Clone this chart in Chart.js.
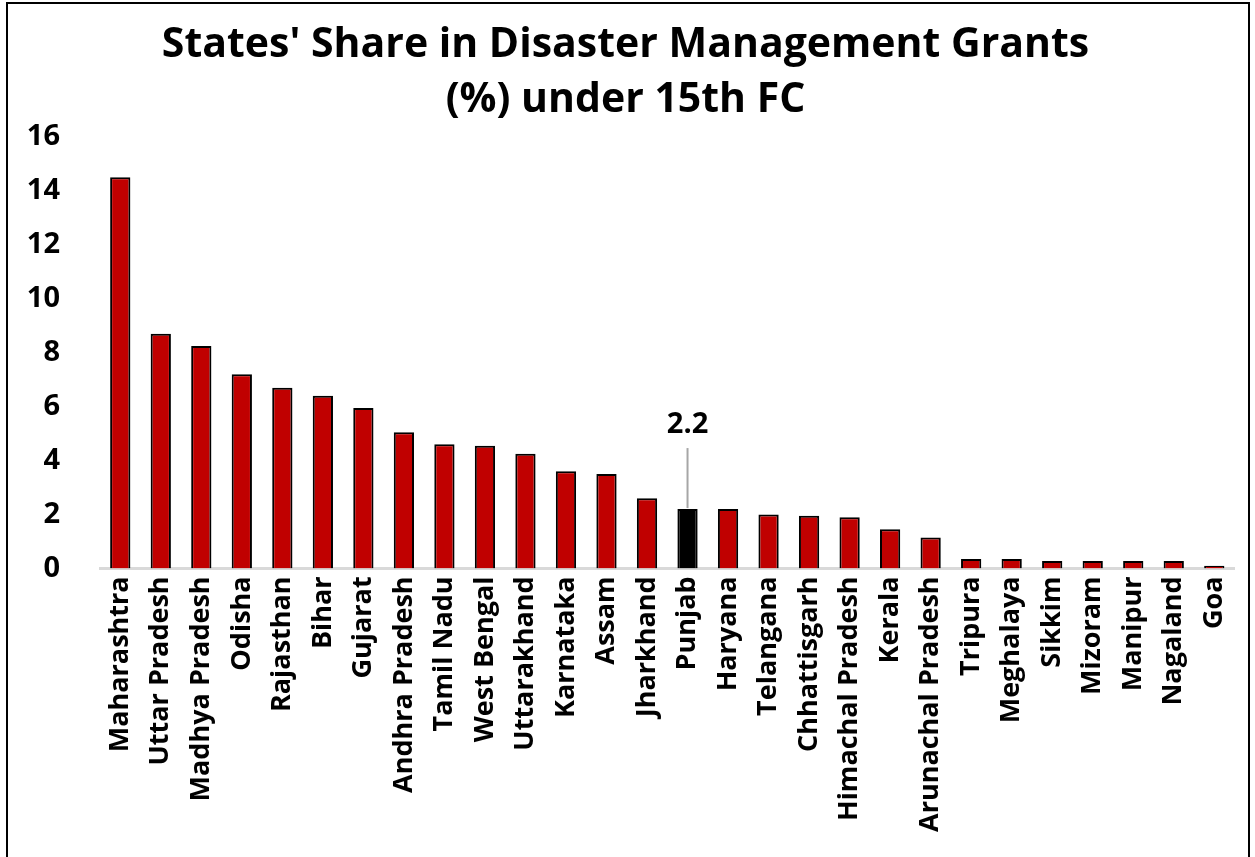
<!DOCTYPE html>
<html>
<head>
<meta charset="utf-8">
<script src="https://cdn.jsdelivr.net/npm/chart.js@4.4.1/dist/chart.umd.min.js"></script>
<style>
  html, body { margin: 0; padding: 0; background: #fff; overflow: hidden; }
  #frame {
    position: absolute; left: 6px; top: 2px;
    width: 1244px; height: 880px;
    border: 2px solid #000; box-sizing: border-box;
  }
  #wrap { position: absolute; left: 0; top: 0; width: 1255px; height: 857px; }
</style>
</head>
<body>
<div id="frame"></div>
<div id="wrap"><canvas id="chart" width="1255" height="857"></canvas></div>
<script>
const states = ["Maharashtra", "Uttar Pradesh", "Madhya Pradesh", "Odisha", "Rajasthan", "Bihar",
  "Gujarat", "Andhra Pradesh", "Tamil Nadu", "West Bengal", "Uttarakhand", "Karnataka", "Assam",
  "Jharkhand", "Punjab", "Haryana", "Telangana", "Chhattisgarh", "Himachal Pradesh", "Kerala",
  "Arunachal Pradesh", "Tripura", "Meghalaya", "Sikkim", "Mizoram", "Manipur", "Nagaland", "Goa"];
const sharePct = [14.5, 8.7, 8.25, 7.2, 6.7, 6.4, 5.95, 5.05, 4.6, 4.55, 4.25, 3.6, 3.5,
  2.6, 2.2, 2.2, 2.0, 1.95, 1.9, 1.45, 1.15, 0.35, 0.35, 0.27, 0.27, 0.27, 0.27, 0.1];
const yTicks = [0, 2, 4, 6, 8, 10, 12, 14, 16];
const highlighted = "Punjab";

const FONT = "'Open Sans', Lato, sans-serif";

// Callout above the highlighted bar: value text with a grey leader line
const calloutPlugin = {
  id: 'callout',
  afterDatasetsDraw(chart) {
    const idx = states.indexOf(highlighted);
    const x = chart.scales.x.getPixelForValue(idx);
    const yTop = chart.scales.y.getPixelForValue(sharePct[idx]);
    const ctx = chart.ctx;
    ctx.save();
    ctx.strokeStyle = '#a6a6a6';
    ctx.lineWidth = 2;
    ctx.beginPath();
    ctx.moveTo(x, yTop - 1);
    ctx.lineTo(x, yTop - 61);
    ctx.stroke();
    ctx.fillStyle = '#000';
    ctx.font = "bold 29px " + FONT;
    ctx.textAlign = 'center';
    ctx.textBaseline = 'middle';
    ctx.fillText(sharePct[idx].toFixed(1), x, yTop - 84);
    ctx.restore();
  }
};

new Chart(document.getElementById('chart'), {
  type: 'bar',
  data: {
    labels: states,
    datasets: [{
      data: sharePct,
      backgroundColor: states.map(s => s === highlighted ? '#000000' : '#c00000'),
      borderColor: '#000000',
      borderWidth: 2,
      barPercentage: 0.5,
      categoryPercentage: 1.0
    }]
  },
  options: {
    responsive: false,
    animation: false,
    layout: { padding: { left: 14, right: 18, top: 18, bottom: 17 } },
    plugins: {
      legend: { display: false },
      tooltip: { enabled: false },
      title: {
        display: true,
        text: ["States' Share in Disaster Management Grants", "(%) under 15th FC"],
        color: '#000',
        font: { family: FONT, size: 41, weight: 'bold', lineHeight: 1.34 },
        padding: { top: 0, bottom: 9 }
      }
    },
    scales: {
      x: {
        grid: { display: false, drawTicks: false },
        border: { display: true, color: '#d9d9d9', width: 3 },
        ticks: {
          color: '#000',
          font: { family: FONT, size: 27, weight: 'bold' },
          minRotation: 90, maxRotation: 90,
          autoSkip: false,
          padding: 8
        }
      },
      y: {
        min: 0, max: 16,
        afterBuildTicks(axis) { axis.ticks = yTicks.map(v => ({ value: v })); },
        afterFit(axis) { axis.width = 86; },
        grid: { display: false, drawTicks: false },
        border: { display: false },
        ticks: {
          color: '#000',
          font: { family: FONT, size: 29, weight: 'bold' },
          padding: 40
        }
      }
    }
  },
  plugins: [calloutPlugin]
});
</script>
</body>
</html>
